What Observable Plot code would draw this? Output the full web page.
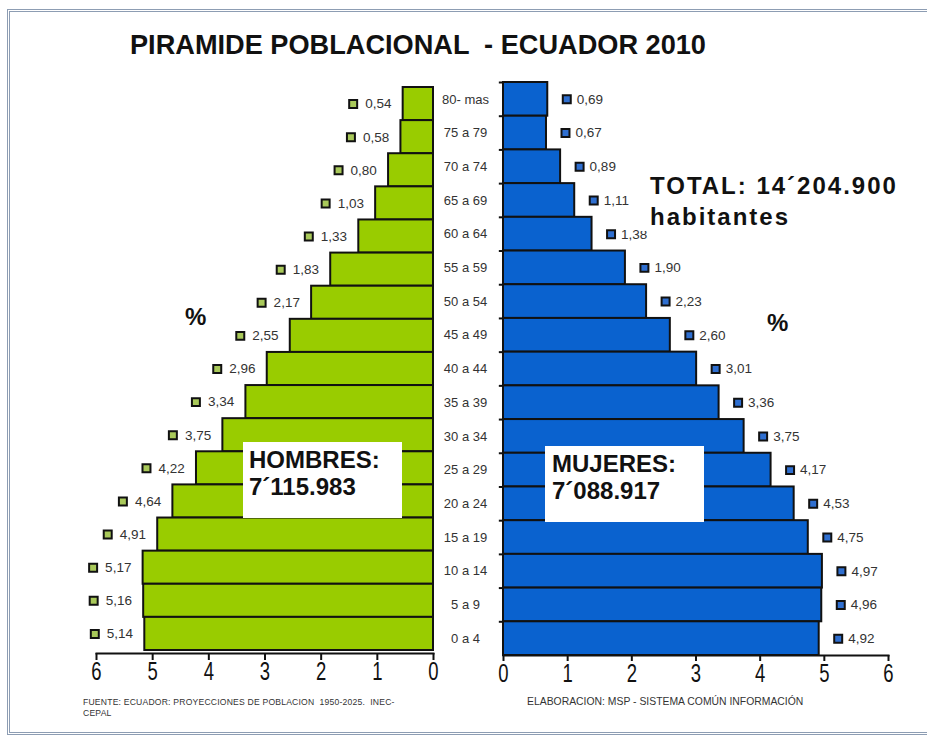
<!DOCTYPE html>
<html>
<head>
<meta charset="utf-8">
<script src="https://cdn.jsdelivr.net/npm/d3@7"></script>
<script src="https://cdn.jsdelivr.net/npm/@observablehq/plot@0.6"></script>
<style>
  body { margin: 0; background: #fff; }
  #wrap { position: relative; width: 927px; height: 736px; overflow: hidden; background: #fff;
          font-family: "Liberation Sans", Arial, sans-serif; color: #111; }
  .abs { position: absolute; white-space: pre; }
  #border { left: 7px; top: 9px; width: 940px; height: 720px; border: 3px double #8d9db3; }
  #chart svg { position: absolute; left: 0; top: 0; overflow: visible; }
  #chart svg [aria-label="frame"] { stroke-width: 2; }
  #chart svg [aria-label="x-axis tick"] { stroke-width: 2; }
  .bold { font-weight: bold; }
  .box { background: #fff; }
</style>
</head>
<body>
<div id="wrap">
  <div id="border" class="abs"></div>
  <div id="chart"></div>
  <div class="abs bold" style="left:130px;top:31px;font-size:28px;line-height:1;transform:scaleX(0.97);transform-origin:0 0;">PIRAMIDE POBLACIONAL  - ECUADOR 2010</div>
  <div class="abs bold box" style="left:641px;top:167px;width:265px;height:64px;"></div>
  <div class="abs bold" style="left:650px;top:170px;font-size:24px;line-height:31px;letter-spacing:2px;">TOTAL: 14´204.900
habitantes</div>
  <div class="abs bold" style="left:185px;top:305px;font-size:24px;line-height:1;">%</div>
  <div class="abs bold" style="left:767px;top:311px;font-size:24px;line-height:1;">%</div>
  <div class="abs bold box" style="left:243px;top:442px;width:153px;height:72px;padding:4px 0 0 6px;font-size:24px;line-height:27px;">HOMBRES:
7´115.983</div>
  <div class="abs bold box" style="left:545px;top:446px;width:152px;height:72px;padding:4px 0 0 7px;font-size:24px;line-height:27px;">MUJERES:
7´088.917</div>
  <div class="abs" style="left:83px;top:697px;font-size:8.6px;line-height:10.5px;color:#333;letter-spacing:0.2px;">FUENTE: ECUADOR: PROYECCIONES DE POBLACION  1950-2025.  INEC-
CEPAL</div>
  <div class="abs" style="left:527px;top:697px;font-size:10.4px;line-height:1;color:#333;">ELABORACION: MSP - SISTEMA COMÚN INFORMACIÓN</div>
</div>
<script>
// ---- data ----
const ageGroups = ["80- mas","75 a 79","70 a 74","65 a 69","60 a 64","55 a 59","50 a 54","45 a 49","40 a 44","35 a 39","30 a 34","25 a 29","20 a 24","15 a 19","10 a 14","5 a 9","0 a 4"];
const hombres = [0.54,0.58,0.80,1.03,1.33,1.83,2.17,2.55,2.96,3.34,3.75,4.22,4.64,4.91,5.17,5.16,5.14];
const mujeres = [0.69,0.67,0.89,1.11,1.38,1.90,2.23,2.60,3.01,3.36,3.75,4.17,4.53,4.75,4.97,4.96,4.92];
const xTicks = [0,1,2,3,4,5,6];

const green = "#99cc00", blue = "#0a62cf";
const fmt = v => v.toFixed(2).replace(".", ",");
const rowsH = ageGroups.map((g, i) => ({g, v: hombres[i]}));
const rowsM = ageGroups.map((g, i) => ({g, v: mujeres[i]}));
const axisFont = "'Liberation Sans', Arial, sans-serif";
const labelFont = "'Liberation Sans', Arial, sans-serif";

const W = 927, H = 736;
const left = Plot.plot({
  width: W, height: H,
  marginLeft: 96, marginRight: W - 433, marginTop: 87, marginBottom: 83,
  style: {background: "transparent", fontSize: "25px", fontFamily: axisFont, color: "#111"},
  x: {domain: [6, 0], ticks: xTicks, tickSize: 7, tickPadding: 2, line: true, label: null, tickFormat: d => String(d)},
  y: {domain: ageGroups, axis: null, padding: 0, round: false, insetBottom: 3},
  marks: [
    Plot.barX(rowsH, {x: "v", y: "g", fill: green, stroke: "#111", strokeWidth: 2}),
    Plot.dot(rowsH, {x: "v", y: "g", dx: -50, symbol: "square", r: 4.5, fill: "#a9c95a", stroke: "#111", strokeWidth: 2}),
    Plot.text(rowsH, {x: "v", y: "g", dx: -38, text: d => fmt(d.v), textAnchor: "start", fontSize: 13.5, fill: "#333", fontFamily: labelFont})
  ]
});

const bw = (H - 82 - 81) / ageGroups.length;
const right = Plot.plot({
  width: W, height: H,
  marginLeft: 503, marginRight: W - 888, marginTop: 82, marginBottom: 81,
  style: {background: "transparent", fontSize: "25px", fontFamily: axisFont, color: "#111"},
  x: {domain: [0, 6], ticks: xTicks, tickSize: 6, tickPadding: 3, line: true, label: null, tickFormat: d => String(d)},
  y: {domain: ageGroups, axis: null, padding: 0, round: false},
  marks: [
    Plot.barX(rowsM, {x: "v", y: "g", fill: blue, stroke: "#111", strokeWidth: 2}),
    Plot.ruleY(ageGroups, {y: d => d, x1: -0.065, x2: 0, dy: -bw / 2, stroke: "#111", strokeWidth: 2}),
    Plot.text(ageGroups, {y: d => d, text: d => d, frameAnchor: "left", dx: -38, textAnchor: "middle", fontSize: 13, fill: "#333", fontFamily: labelFont}),
    Plot.dot(rowsM, {x: "v", y: "g", dx: 19, symbol: "square", r: 4.5, fill: "#2f6fd0", stroke: "#111", strokeWidth: 2}),
    Plot.text(rowsM, {x: "v", y: "g", dx: 29, text: d => fmt(d.v), textAnchor: "start", fontSize: 13.5, fill: "#333", fontFamily: labelFont})
  ]
});

// condense the tick labels horizontally, as in the original
for (const svg of [left, right]) {
  svg.querySelectorAll('[aria-label="x-axis tick label"] text').forEach(t => {
    const tr = t.getAttribute("transform") || "";
    t.setAttribute("transform", tr + " scale(0.74,1)");
  });
}

const chart = document.getElementById("chart");
chart.appendChild(left);
chart.appendChild(right);
</script>
</body>
</html>
